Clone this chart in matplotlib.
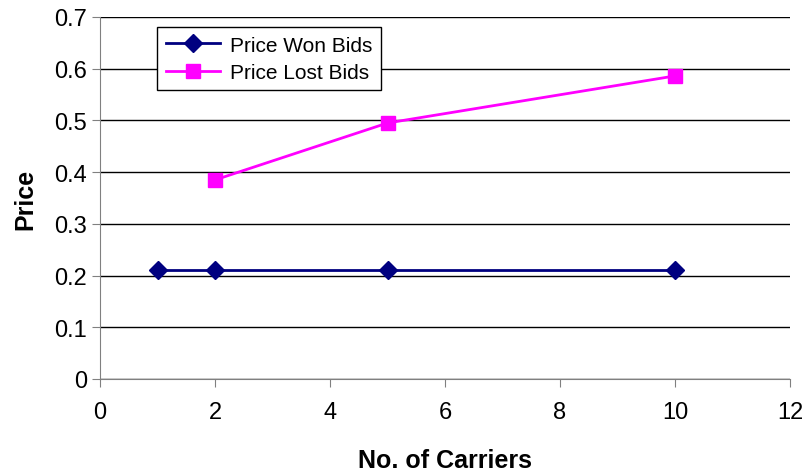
import matplotlib
matplotlib.use("Agg")
import matplotlib.pyplot as plt

plt.rcParams['font.family'] = ['Liberation Sans', 'DejaVu Sans']

carriers_won = [1, 2, 5, 10]
price_won = [0.21, 0.21, 0.21, 0.21]
carriers_lost = [2, 5, 10]
price_lost = [0.385, 0.495, 0.586]

fig = plt.figure(figsize=(8.08, 4.77), dpi=100)
ax = fig.add_axes([0.1238, 0.2034, 0.8539, 0.7589])

ax.plot(carriers_won, price_won, color='#000080', marker='D', markersize=9,
        linewidth=2, label='Price Won Bids', clip_on=False, zorder=3)
ax.plot(carriers_lost, price_lost, color='#FF00FF', marker='s', markersize=10,
        linewidth=2, label='Price Lost Bids', clip_on=False, zorder=3)

ax.set_xlim(0, 12)
ax.set_ylim(0, 0.7)
ax.set_xticks(range(0, 13, 2))
ax.set_yticks([0, 0.1, 0.2, 0.3, 0.4, 0.5, 0.6, 0.7])
ax.set_yticklabels(['0', '0.1', '0.2', '0.3', '0.4', '0.5', '0.6', '0.7'])
ax.yaxis.grid(True, color='black', linewidth=1)
ax.set_axisbelow(True)
for s in ['top', 'right']:
    ax.spines[s].set_visible(False)
ax.spines['left'].set_color('#808080')
ax.spines['bottom'].set_color('#808080')
ax.tick_params(axis='both', labelsize=17, length=6, color='#808080', direction='out')
ax.tick_params(axis='x', pad=10)

ax.set_xlabel('No. of Carriers', fontsize=18, fontweight='bold', labelpad=18)
ax.set_ylabel('Price', fontsize=18, fontweight='bold', labelpad=12)

leg = ax.legend(loc='upper left', bbox_to_anchor=(0.068, 1.0), fontsize=15,
                frameon=True, fancybox=False, edgecolor='black', framealpha=1,
                handlelength=2.6, borderpad=0.4, labelspacing=0.4, handletextpad=0.5)
leg.get_frame().set_linewidth(1)

fig.savefig('out.png', dpi=100)
